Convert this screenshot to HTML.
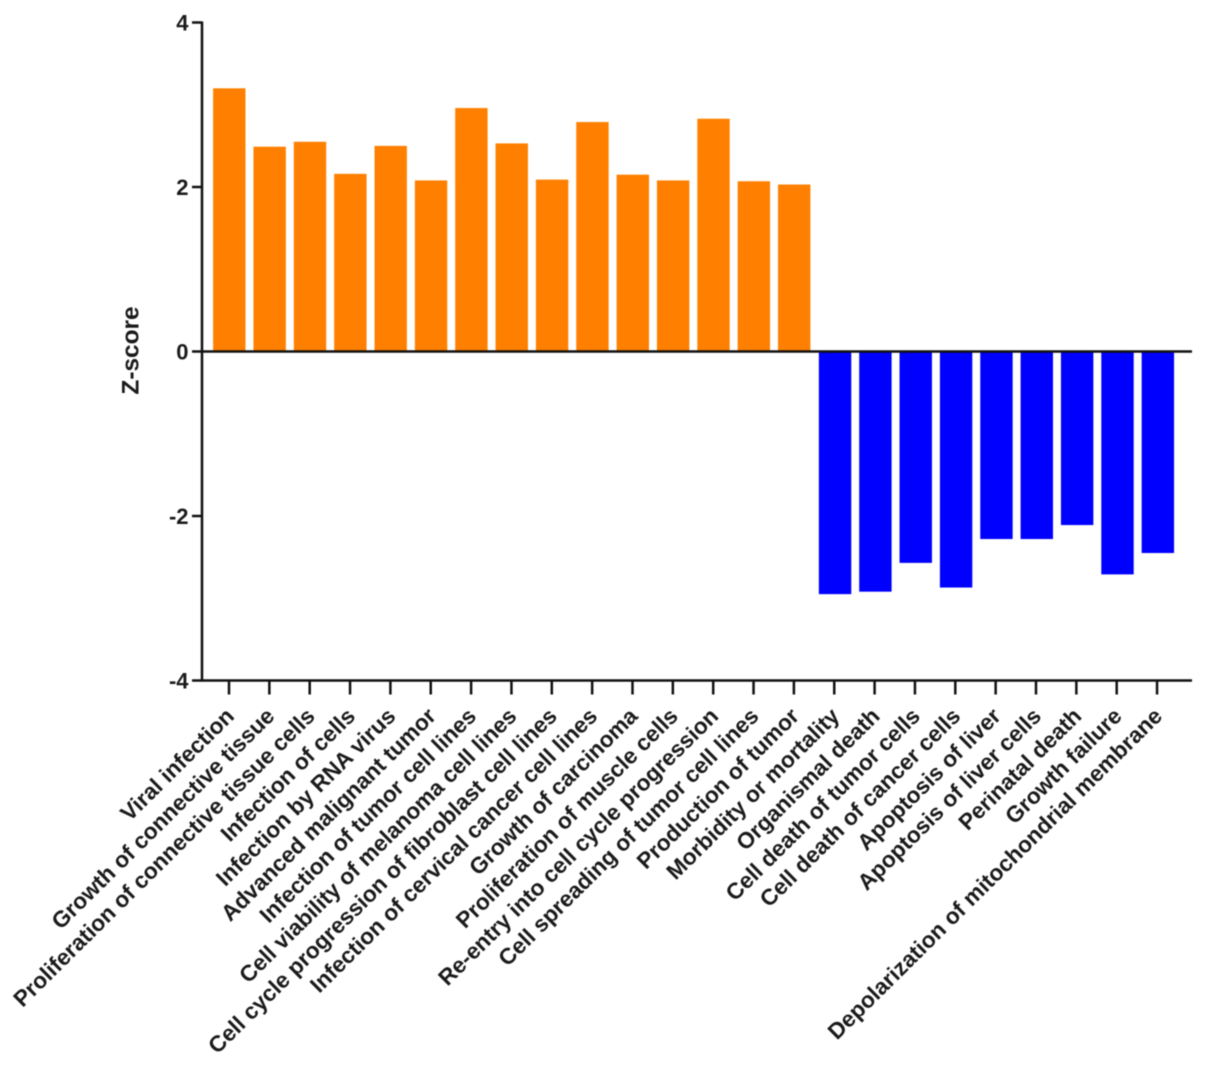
<!DOCTYPE html>
<html>
<head>
<meta charset="utf-8">
<style>
html,body{margin:0;padding:0;background:#fff;width:1205px;height:1067px;overflow:hidden}
svg{display:block;font-family:"Liberation Sans",Arial,sans-serif;font-weight:bold;filter:blur(0.5px)}
text{fill:#1a1a1a}
</style>
</head>
<body>
<svg id="chart" width="1205" height="1067" viewBox="0 0 1205 1067" xmlns="http://www.w3.org/2000/svg"></svg>
<script>
const categories = ["Viral infection","Growth of connective tissue","Proliferation of connective tissue cells","Infection of cells","Infection by RNA virus","Advanced malignant tumor","Infection of tumor cell lines","Cell viability of melanoma cell lines","Cell cycle progression of fibroblast cell lines","Infection of cervical cancer cell lines","Growth of carcinoma","Proliferation of muscle cells","Re-entry into cell cycle progression","Cell spreading of tumor cell lines","Production of tumor","Morbidity or mortality","Organismal death","Cell death of tumor cells","Cell death of cancer cells","Apoptosis of liver","Apoptosis of liver cells","Perinatal death","Growth failure","Depolarization of mitochondrial membrane"];
const zScores = [3.2,2.49,2.55,2.16,2.5,2.08,2.96,2.53,2.09,2.79,2.15,2.08,2.83,2.07,2.03,-2.95,-2.92,-2.57,-2.87,-2.28,-2.28,-2.11,-2.71,-2.45];
const yTicks = [4,2,0,-2,-4];

const svg = document.getElementById('chart');
const NS = 'http://www.w3.org/2000/svg';
const y = v => 351.5 - v * 82.25;
const x = i => 229 + i * 40.35;
function make(tag, attrs, text){
  const el = document.createElementNS(NS, tag);
  for (const k in attrs) el.setAttribute(k, attrs[k]);
  if (text !== undefined) el.textContent = text;
  svg.appendChild(el);
  return el;
}
zScores.forEach((v,i)=>{
  const top = Math.min(y(v), y(0));
  const el = make('rect',{x:x(i)-15.9+(v<0?0.5:0),y:top,width:32.4,height:Math.abs(y(v)-y(0)),fill:v>=0?'#ff8000':'#0000ff'});
  
  
});
const yAxis = make('line',{x1:202,x2:202,y1:y(4)-1,y2:y(-4)+1,stroke:'#111','stroke-width':2.5});


const zero = make('line',{x1:201,x2:1192,y1:y(0),y2:y(0),stroke:'#111','stroke-width':2.5});


const xAxis = make('line',{x1:201,x2:1192,y1:y(-4),y2:y(-4),stroke:'#111','stroke-width':2.5});


yTicks.forEach(t=>{
  const tick = make('line',{x1:192,x2:202,y1:y(t),y2:y(t),stroke:'#111','stroke-width':2.5});
  
  
  const lab = make('text',{x:188.5,y:y(t)+8,'text-anchor':'end','font-size':22}, String(t));
  
  
});
categories.forEach((c,i)=>{
  const tick = make('line',{x1:x(i),x2:x(i),y1:y(-4),y2:y(-4)+14,stroke:'#111','stroke-width':2.5});
  
  
  const lx = x(i)+6.5;
  const ly = y(-4)+37;
  const lab = make('text',{x:lx,y:ly,'text-anchor':'end','font-size':22.6,transform:`rotate(-44.7 ${lx} ${ly})`}, c);
  
  
});
const title = make('text',{x:138.5,y:350.5,'text-anchor':'middle','font-size':24.4,transform:'rotate(-90 138.5 350.5)'}, 'Z-score');


</script>
</body>
</html>
